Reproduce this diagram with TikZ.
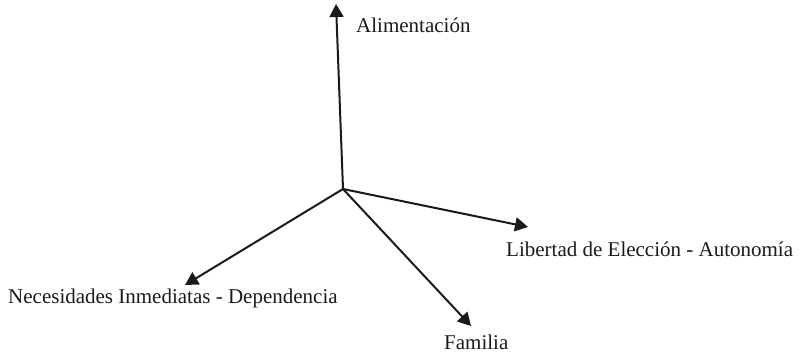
\documentclass[tikz,border=0pt]{standalone}
\usepackage{fontspec}
\setmainfont{Liberation Serif}
\usetikzlibrary{arrows.meta}
\definecolor{ink}{HTML}{1A1A1A}
\begin{document}
\begin{tikzpicture}[x=1pt,y=-1pt,
  axis/.style={draw=ink,line width=2pt,-{Triangle[length=13pt,width=14pt]}},
  lbl/.style={text=ink,inner sep=0pt,anchor=base west,font=\fontsize{21}{25}\selectfont}]
\useasboundingbox (0,0) rectangle (805,355);
\coordinate (o) at (343,189);
\coordinate (tu) at (336,4);
\coordinate (tr) at (528,227);
\coordinate (tf) at (471,326);
\coordinate (tl) at (185,285);
\draw[axis] (o) -- (tu);
\draw[axis] (o) -- (tr);
\draw[axis] (o) -- (tf);
\draw[axis] (o) -- (tl);
\node[lbl] (ali) at (356,33) {Alimentación};
\node[lbl] (lib) at (506,256) {Libertad de Elección - Autonomía};
\node[lbl] (nec) at (8,303) {Necesidades Inmediatas - Dependencia};
\node[lbl] (fam) at (444,349) {Familia};
\end{tikzpicture}
\end{document}
